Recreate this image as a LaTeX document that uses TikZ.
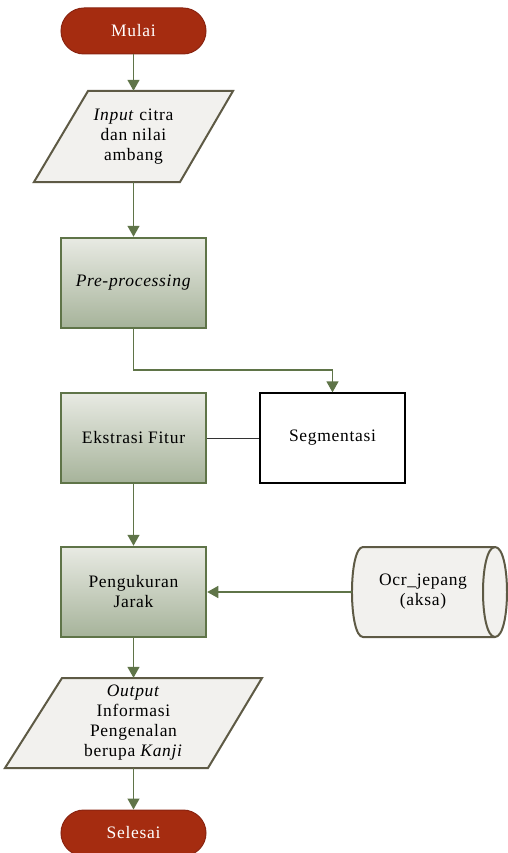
\documentclass[tikz,border=0pt]{standalone}
\usepackage{fontspec}
\setmainfont{Liberation Serif}[LetterSpace=4]
\usetikzlibrary{arrows.meta}
\definecolor{termfill}{HTML}{A52C10}
\definecolor{termdraw}{HTML}{8A2410}
\definecolor{iofill}{HTML}{F2F1EE}
\definecolor{iodraw}{HTML}{5E5A45}
\definecolor{proctop}{HTML}{E8EAE3}
\definecolor{procbot}{HTML}{A6B39A}
\definecolor{procdraw}{HTML}{5F7448}
\definecolor{arrcol}{HTML}{5F7448}
\begin{document}
\begin{tikzpicture}[x=1pt,y=-1pt,
  every node/.style={font=\fontsize{17.5}{20}\selectfont, align=center, inner sep=0pt},
  term/.style={rectangle, rounded corners=23pt, minimum width=145pt, minimum height=46pt,
    fill=termfill, draw=termdraw, line width=1pt, text=white},
  proc/.style={rectangle, minimum width=145pt, minimum height=90pt,
    top color=proctop, bottom color=procbot, draw=procdraw, line width=2.5pt},
  plain/.style={rectangle, minimum width=145pt, minimum height=90pt,
    fill=white, draw=black, line width=1.3pt},
  ioshape/.style={fill=iofill, draw=iodraw, line width=2pt, line join=miter},
  arr/.style={draw=arrcol, line width=1.4pt, -{Triangle[width=12pt,length=11pt]}},
  link/.style={draw=black!80, line width=1pt}
]
\useasboundingbox (0,0) rectangle (508,853);

% terminals
\node[term] (mulai) at (133.5,31) {Mulai};
\node[term] (selesai) at (133.5,833) {Selesai};

% input parallelogram
\draw[ioshape] (88,91) -- (233,91) -- (180,182) -- (34,182) -- cycle;
\node[minimum width=145pt, minimum height=91pt] (inp) at (133.5,136.5)
  {\textit{Input} citra\\dan nilai\\ambang};

% processes
\node[proc] (pre) at (133.5,283) {\textit{Pre-processing}};
\node[proc] (eks) at (133.5,438) {Ekstrasi Fitur};
\node[plain] (seg) at (332.5,438) {Segmentasi};
\node[proc] (ukur) at (133.5,592) {Pengukuran\\Jarak};

% stored data
\draw[ioshape] (363,547) -- (495,547) .. controls (511,547) and (511,637) .. (495,637)
  -- (363,637) .. controls (348.3,637) and (348.3,547) .. (363,547) -- cycle;
\draw[draw=iodraw, line width=2pt] (495,547) .. controls (479,547) and (479,637) .. (495,637);
\node[minimum width=142pt, minimum height=90pt] (ocr) at (423,592) {Ocr\_jepang\\(aksa)};

% output parallelogram
\draw[ioshape] (62,678) -- (262,678) -- (208,768) -- (5,768) -- cycle;
\node[minimum width=145pt, minimum height=90pt] (out) at (133.5,723)
  {\textit{Output}\\Informasi\\Pengenalan\\berupa \textit{Kanji}};

% connectors
\coordinate (bend) at (133.5,370);
\draw[arr] (mulai.south) -- (inp.north);
\draw[arr] (inp.south) -- (pre.north);
\draw[arr] (pre.south) -- (bend) -| (seg.north);
\draw[link] (eks.east) -- (seg.west);
\draw[arr] (eks.south) -- (ukur.north);
\draw[arr] (ocr.west) -- (ukur.east);
\draw[arr] (ukur.south) -- (out.north);
\draw[arr] (out.south) -- (selesai.north);
\end{tikzpicture}
\end{document}
